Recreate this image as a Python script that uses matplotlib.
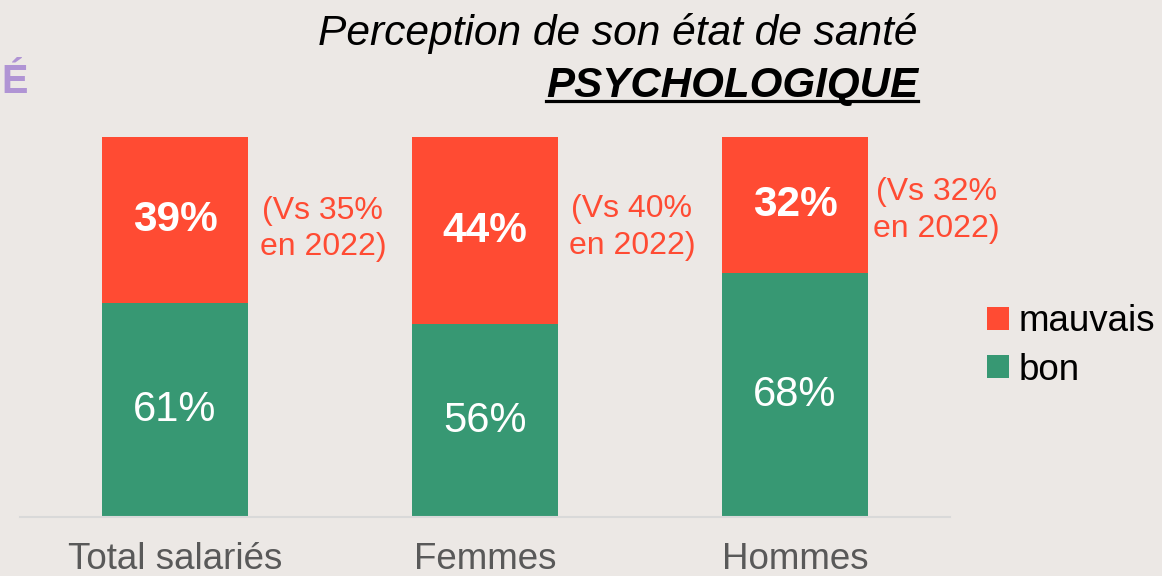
import matplotlib
matplotlib.use("Agg")
import matplotlib.pyplot as plt
from matplotlib.patches import Patch
from matplotlib.lines import Line2D

# ---- data ----
categories = ["Total salariés", "Femmes", "Hommes"]
bon = [61, 56, 68]
mauvais = [39, 44, 32]
prev_2022 = [35, 40, 32]

# ---- style ----
BG = "#ECE8E5"
GREEN = "#379873"
RED = "#FF4B33"
GREY = "#595959"
PURPLE = "#B094D4"
FONT = ["Liberation Sans", "DejaVu Sans"]
plt.rcParams["font.family"] = FONT

W, H = 1162, 576
fig = plt.figure(figsize=(W / 100, H / 100), dpi=100, facecolor=BG)
ax = fig.add_axes([20 / W, 1 - 517 / H, 930 / W, 380 / H], facecolor=BG)

x = list(range(len(categories)))
width = 0.47
ax.bar(x, bon, width=width, color=GREEN, label="bon", zorder=2)
ax.bar(x, mauvais, width=width, bottom=bon, color=RED, label="mauvais", zorder=2)

ax.set_xlim(-0.5, 2.5)
ax.set_ylim(10.75, 100)

for s in ["top", "left", "right"]:
    ax.spines[s].set_visible(False)
ax.spines["bottom"].set_color("#D9D9D9")
ax.spines["bottom"].set_linewidth(1.5)
ax.set_yticks([])
ax.set_xticks(x)
ax.set_xticklabels(categories, fontsize=26.5, color=GREY)
ax.tick_params(axis="x", length=0, pad=18)

# segment labels
for i in x:
    gb = (ax.get_ylim()[0] + bon[i]) / 2
    ax.text(i, gb, f"{bon[i]}%", ha="center", va="center", color="white",
            fontsize=30, zorder=3)
    rm = bon[i] + mauvais[i] / 2
    ax.text(i, rm, f"{mauvais[i]}%", ha="center", va="center", color="white",
            fontsize=30.5, fontweight="bold", zorder=3)

# comparison annotations
ann_dx = [0.477, 0.474, 0.455]
ann_y = [78.4, 78.85, 82.8]
for i in x:
    ax.text(i + ann_dx[i], ann_y[i], f"(Vs {prev_2022[i]}%\nen 2022)",
            ha="center", va="center", color=RED, fontsize=23,
            linespacing=1.3, multialignment="center")

# legend
handles = [Patch(facecolor=RED, edgecolor="none", label="mauvais"),
           Patch(facecolor=GREEN, edgecolor="none", label="bon")]
fig.legend(handles=handles, loc="center left", bbox_to_anchor=(987 / W, 1 - 346 / H),
           frameon=False, fontsize=26.5, handlelength=0.6, handleheight=0.6,
           handletextpad=0.25, labelspacing=0.36, borderpad=0, borderaxespad=0)

# titles
fig.text(918 / W, 1 - 45 / H, "Perception de son état de santé", ha="right",
         va="baseline", fontsize=30.6, style="italic", color="black")
t2 = fig.text(918 / W, 1 - 97 / H, "PSYCHOLOGIQUE", ha="right", va="baseline",
              fontsize=30.3, style="italic", fontweight="bold", color="black")
fig.text(1 / W, 1 - 93 / H, "É", ha="left", va="baseline", fontsize=28.5,
         fontweight="bold", color=PURPLE)

fig.canvas.draw()
bb = t2.get_window_extent(fig.canvas.get_renderer())
fig.add_artist(Line2D([bb.x0 / W, bb.x1 / W], [1 - 100.5 / H, 1 - 100.5 / H],
                      transform=fig.transFigure, color="black", linewidth=2.3))

fig.savefig("out.png", dpi=100, facecolor=BG)
